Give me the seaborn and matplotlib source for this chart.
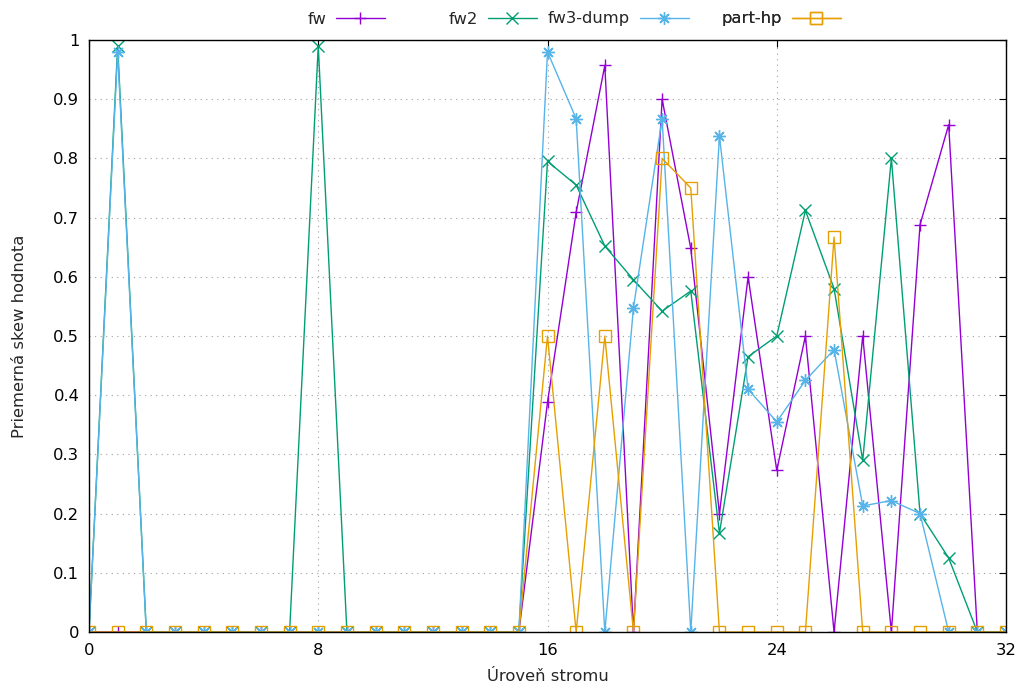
import matplotlib
matplotlib.use("Agg")
import matplotlib.pyplot as plt
import matplotlib.ticker as mticker
import seaborn as sns
import pandas as pd

levels = list(range(33))
fw = [0, 0, 0, 0, 0, 0, 0, 0, 0, 0, 0, 0, 0, 0, 0, 0,
      0.388, 0.709, 0.957, 0, 0.90, 0.648, 0.20, 0.60, 0.273, 0.50,
      0, 0.50, 0, 0.688, 0.857, 0, 0]
fw2 = [0, 0.99, 0, 0, 0, 0, 0, 0, 0.99, 0, 0, 0, 0, 0, 0, 0,
       0.795, 0.755, 0.652, 0.595, 0.542, 0.576, 0.167, 0.465, 0.50, 0.712,
       0.58, 0.29, 0.80, 0.20, 0.125, 0, 0]
fw3_dump = [0, 0.98, 0, 0, 0, 0, 0, 0, 0, 0, 0, 0, 0, 0, 0, 0,
            0.98, 0.867, 0, 0.548, 0.867, 0, 0.838, 0.41, 0.355, 0.425,
            0.477, 0.213, 0.222, 0.20, 0, 0, 0]
part_hp = [0, 0, 0, 0, 0, 0, 0, 0, 0, 0, 0, 0, 0, 0, 0, 0,
           0.5, 0, 0.5, 0, 0.8, 0.75, 0, 0, 0, 0,
           0.667, 0, 0, 0, 0, 0, 0]

series_names = ["fw", "fw2", "fw3-dump", "part-hp"]
series_values = [fw, fw2, fw3_dump, part_hp]
colors = ["#9400D3", "#009E73", "#56B4E9", "#E69F00"]
markers = ["+", "x", (8, 2, 0), "s"]
x_ticks = [0, 8, 16, 24, 32]

sns.set_theme(style="white")
plt.rcParams["font.family"] = ["DejaVu Sans"]
FS = 11.8

fig = plt.figure(figsize=(10.22, 6.87), dpi=100)
ax = fig.add_axes([89 / 1022, 1 - 632 / 687, (1006 - 89) / 1022, (632 - 40) / 687])

for name, vals, c, m in zip(series_names, series_values, colors, markers):
    df = pd.DataFrame({"x": levels, "y": vals})
    kw = dict(markersize=9, markeredgewidth=1.0, markeredgecolor=c)
    if m == "s":
        kw.update(markerfacecolor="none", markersize=9)
    sns.lineplot(data=df, x="x", y="y", ax=ax, color=c, marker=m,
                 linewidth=1.0, label=name, **kw)

ax.set_xlim(0, 32)
ax.set_ylim(0, 1)
ax.set_xticks(x_ticks)
ax.yaxis.set_major_locator(mticker.MultipleLocator(0.1))
ax.yaxis.set_major_formatter(mticker.FuncFormatter(lambda v, p: "%g" % round(v, 2)))
ax.grid(True, linestyle=(0, (1, 4)), color="#a0a0a0", linewidth=0.8)
ax.tick_params(direction="in", top=True, right=True, length=5, width=0.8,
               colors="black", labelsize=FS)
ax.tick_params(axis="y", pad=7)
ax.tick_params(axis="x", pad=8)
for s in ax.spines.values():
    s.set_color("black")
    s.set_linewidth(1.0)

ax.set_xlabel("Úroveň stromu", fontsize=FS, labelpad=8)
ax.set_ylabel("Priemerná skew hodnota", fontsize=FS, labelpad=19)

handles, labels = ax.get_legend_handles_labels()
ax.get_legend().remove()
right_edges_px = [385, 537, 689, 841]
legs = []
for h, l, rx in zip(handles, labels, right_edges_px):
    leg = ax.legend([h], [l], loc="center right",
                    bbox_to_anchor=((rx - 89) / 917, 1 + 21 / 592),
                    frameon=False, markerfirst=False, handlelength=3.0,
                    handletextpad=0.6, fontsize=FS, borderpad=0,
                    borderaxespad=0)
    legs.append(leg)
    ax.add_artist(leg)

fig.savefig("out.png", dpi=100)
